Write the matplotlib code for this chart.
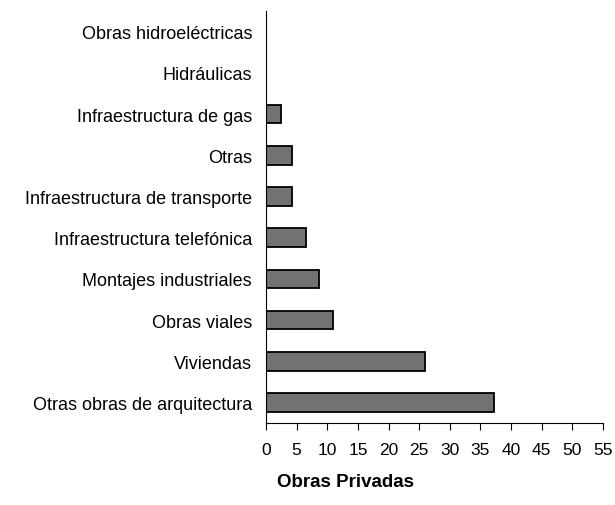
import numpy as np
from matplotlib import pyplot as plt

plt.rcParams['font.family'] = ['Liberation Sans', 'DejaVu Sans']

categorias = ['Otras obras de arquitectura', 'Viviendas', 'Obras viales',
              'Montajes industriales', 'Infraestructura telefónica',
              'Infraestructura de transporte', 'Otras', 'Infraestructura de gas',
              'Hidráulicas', 'Obras hidroeléctricas']
valores = [37.2, 25.9, 10.9, 8.7, 6.45, 4.2, 4.2, 2.4, 0, 0]
ticks_x = list(range(0, 56, 5))

fig = plt.figure(figsize=(6.15, 5.06), dpi=100)
ax = fig.add_axes([0.4325, 0.162, 0.548, 0.814])

pos = np.arange(len(categorias))
ax.barh(pos, valores, height=0.45, color='#727272', edgecolor='black', linewidth=1.3)

ax.set_ylim(-0.5, len(categorias) - 0.5)
ax.set_xlim(0, 55)
ax.set_xticks(ticks_x)
ax.set_yticks(pos)
ax.set_yticklabels(categorias, fontsize=13)
ax.tick_params(axis='y', length=0, pad=10)
ax.tick_params(axis='x', direction='out', length=5, labelsize=12.5, pad=9)
ax.spines['top'].set_visible(False)
ax.spines['right'].set_visible(False)

fig.text(345 / 615, 1 - 483 / 506, 'Obras Privadas', fontsize=13.5, fontweight='bold',
         ha='center', va='center')

fig.savefig('out.png', dpi=100)
